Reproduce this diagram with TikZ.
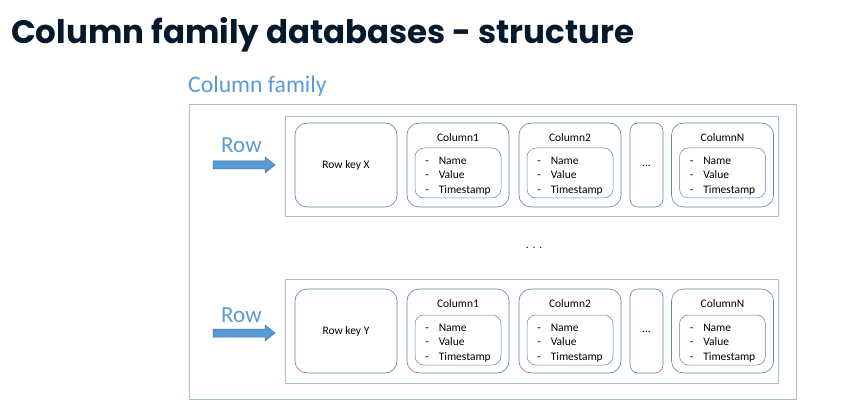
\documentclass[tikz,border=0pt]{standalone}
\usepackage{fontspec}
\setmainfont{Carlito}
\newfontfamily\titlefont{Poppins}
\definecolor{boxline}{RGB}{168,186,206}
\definecolor{cellline}{RGB}{98,130,168}
\definecolor{famblue}{RGB}{91,155,213}
\definecolor{arrowline}{RGB}{65,113,156}
\definecolor{titlenavy}{RGB}{5,25,45}
\newcommand{\attrlist}{\raisebox{-3pt}[\height][\depth]{\begin{tabular}{@{}l@{\hspace{10pt}}l@{}}-&Name\\-&Value\\-&Timestamp\end{tabular}}}

\begin{document}
\begin{tikzpicture}[x=1pt,y=-1pt,line join=round,
  famrect/.style={draw=boxline,line width=0.9pt,inner sep=0pt},
  cell/.style={draw=cellline,line width=0.6pt,rounded corners=12pt,minimum width=102pt,minimum height=84pt,inner sep=0pt,font=\fontsize{11.5}{14.5}\selectfont},
  dotcell/.style={cell,minimum width=33pt,rounded corners=8pt},
  listbox/.style={draw=cellline,line width=0.5pt,rounded corners=9pt,minimum width=86pt,minimum height=50pt,inner sep=0pt,font=\fontsize{11.5}{14.5}\selectfont},
  coltitle/.style={inner sep=0pt,font=\fontsize{11.5}{14.5}\selectfont},
  rowlabel/.style={inner sep=0pt,text=famblue,font=\fontsize{23}{27}\selectfont},
  rowarrow/.style={fill=famblue,draw=arrowline,line width=0.5pt}]
\useasboundingbox (0,0) rectangle (843,414);
% title
\node[anchor=base west,inner sep=0pt,text=titlenavy,font=\titlefont\bfseries\fontsize{32.5}{36}\selectfont] (title) at (11,44) {Column family databases - structure};
\node[anchor=base west,inner sep=0pt,text=famblue,font=\fontsize{23.7}{28}\selectfont] (famlabel) at (188,93) {Column family};
\node[famrect,minimum width=607pt,minimum height=295pt] (family) at (492.5,251.5) {};
% row X
\node[famrect,minimum width=493pt,minimum height=100pt] (rowx) at (531.5,166) {};
\node[rowlabel,anchor=base west] (xrow) at (221,153) {Row};
\draw[rowarrow] (213,161) -- (265,161) -- (265,157) -- (275,165) -- (265,173) -- (265,169) -- (213,169) -- cycle;
\node[cell] (keyx) at (346,165) {Row key X};
\node[cell] (xcol1) at (458,165) {};
\node[coltitle] (xtitle1) at (458,138) {Column1};
\node[listbox] (xlist1) at (458,173) {\attrlist};
\node[cell] (xcol2) at (570,165) {};
\node[coltitle] (xtitle2) at (570,138) {Column2};
\node[listbox] (xlist2) at (570,173) {\attrlist};
\node[dotcell] (xdots) at (646.5,165) {\raisebox{-4pt}{...}};
\node[cell] (xcoln) at (722.5,165) {};
\node[coltitle] (xtitlen) at (722.5,138) {ColumnN};
\node[listbox] (xlistn) at (722.5,173) {\attrlist};
% gap
\node[coltitle] (gap) at (534,248) {.\,\,.\,\,.};
% row Y
\node[famrect,minimum width=493pt,minimum height=104pt] (rowy) at (531.5,331) {};
\node[rowlabel,anchor=base west] (yrow) at (221,322) {Row};
\draw[rowarrow] (213,329) -- (265,329) -- (265,325) -- (275,333) -- (265,341) -- (265,337) -- (213,337) -- cycle;
\node[cell] (keyy) at (346,331) {Row key Y};
\node[cell] (ycol1) at (458,331) {};
\node[coltitle] (ytitle1) at (458,304) {Column1};
\node[listbox] (ylist1) at (458,340) {\attrlist};
\node[cell] (ycol2) at (570,331) {};
\node[coltitle] (ytitle2) at (570,304) {Column2};
\node[listbox] (ylist2) at (570,340) {\attrlist};
\node[dotcell] (ydots) at (646.5,331) {\raisebox{-4pt}{...}};
\node[cell] (ycoln) at (722.5,331) {};
\node[coltitle] (ytitlen) at (722.5,304) {ColumnN};
\node[listbox] (ylistn) at (722.5,340) {\attrlist};
\end{tikzpicture}
\end{document}
